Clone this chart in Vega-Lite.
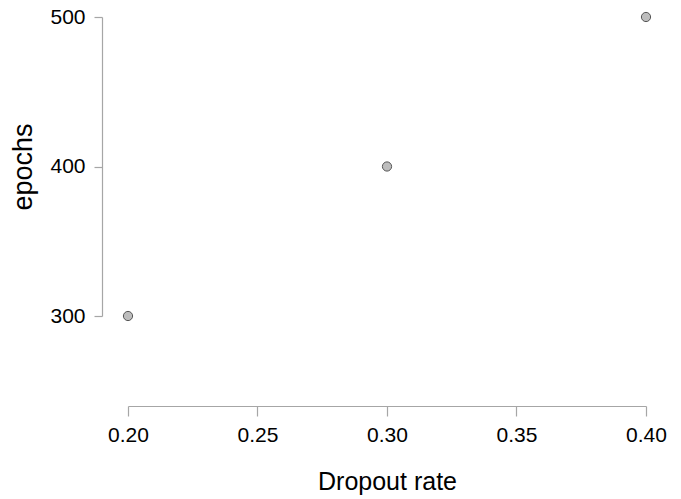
{
  "$schema": "https://vega.github.io/schema/vega-lite/v6.json",
  "autosize": "none",
  "width": 518,
  "height": 299,
  "padding": {"left": 128, "top": 17, "right": 35, "bottom": 183},
  "background": "white",
  "config": {"view": {"stroke": null}},
  "data": {"values": [
    {"dropout": 0.2, "epochs": 300},
    {"dropout": 0.3, "epochs": 400},
    {"dropout": 0.4, "epochs": 500}
  ]},
  "mark": {"type": "point", "filled": true, "fill": "#bdbdbd", "stroke": "#555555", "strokeWidth": 1, "size": 85, "opacity": 1},
  "encoding": {
    "x": {"field": "dropout", "type": "quantitative", "title": "Dropout rate",
      "scale": {"domain": [0.2, 0.4], "nice": false, "zero": false},
      "axis": {"values": [0.2, 0.25, 0.3, 0.35, 0.4], "format": ".2f", "offset": 90, "grid": false,
        "labelFlush": false, "labelOverlap": false,
        "domainColor": "#a6a6a6", "tickColor": "#a6a6a6", "tickSize": 10, "domainWidth": 1.2, "tickWidth": 1.2,
        "labelFont": "Liberation Sans", "labelFontSize": 21, "labelColor": "#000000", "labelPadding": 8,
        "titleFont": "Liberation Sans", "titleFontSize": 25, "titleFontWeight": "normal", "titleColor": "#000000", "titlePadding": 24}},
    "y": {"field": "epochs", "type": "quantitative", "title": "epochs",
      "scale": {"domain": [300, 500], "nice": false, "zero": false},
      "axis": {"values": [300, 400, 500], "offset": 26, "grid": false,
        "labelFlush": false, "labelOverlap": false,
        "domainColor": "#a6a6a6", "tickColor": "#a6a6a6", "tickSize": 8, "domainWidth": 1.2, "tickWidth": 1.2,
        "labelFont": "Liberation Sans", "labelFontSize": 21, "labelColor": "#000000", "labelPadding": 9,
        "titleFont": "Liberation Sans", "titleFontSize": 27, "titleFontWeight": "normal", "titleColor": "#000000", "titlePadding": 12}}
  }
}
